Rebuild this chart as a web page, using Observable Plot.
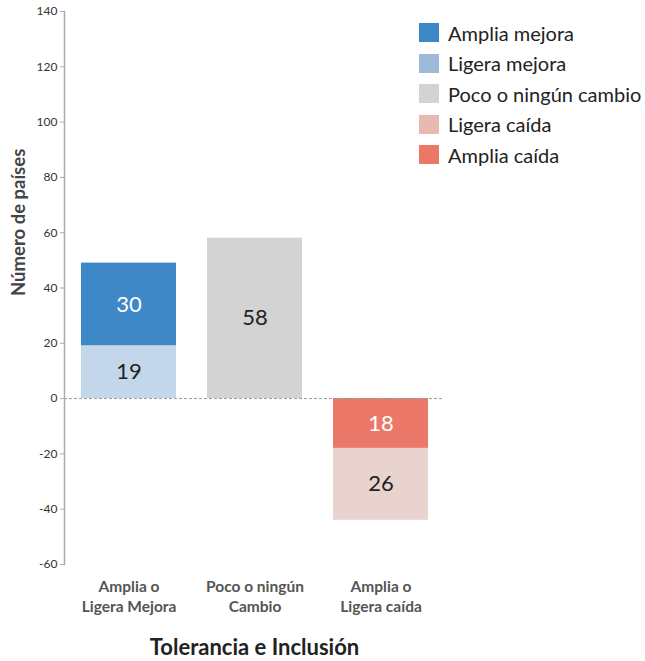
<!DOCTYPE html>
<html>
<head>
<meta charset="utf-8">
<script src="https://cdn.jsdelivr.net/npm/d3@7"></script>
<script src="https://cdn.jsdelivr.net/npm/@observablehq/plot@0.6"></script>
<style>
  body { margin: 0; background: #fff; font-family: Lato, "Open Sans", sans-serif; }
  #wrap { position: relative; width: 645px; height: 661px; }
  #legend { position: absolute; left: 419px; top: 17.5px; }
  .item { display: flex; align-items: center; height: 30.5px; }
  .sw { width: 20px; height: 19px; margin-right: 9px; flex: none; }
  .lb { font-size: 20px; color: #222; white-space: nowrap; line-height: 20px; }
</style>
</head>
<body>
<div id="wrap"><div id="chart"></div><div id="legend"></div></div>
<script>
// ---- data ----
const categories = ["Amplia o\nLigera Mejora", "Poco o ningún\nCambio", "Amplia o\nLigera caída"];
const seriesNames = ["Amplia mejora", "Ligera mejora", "Poco o ningún cambio", "Ligera caída", "Amplia caída"];
const seriesCategory = ["Amplia o\nLigera Mejora", "Amplia o\nLigera Mejora", "Poco o ningún\nCambio", "Amplia o\nLigera caída", "Amplia o\nLigera caída"];
const seriesValues = [30, 19, 58, -26, -18];
const yTicks = [-60, -40, -20, 0, 20, 40, 60, 80, 100, 120, 140];
const yLabel = "Número de países";
const xTitle = "Tolerancia e Inclusión";

// ---- styles ----
const legendColors = ["#3d87c7", "#9dbbd8", "#d3d3d3", "#e8b8b1", "#eb7767"];
const barColors = ["#3e88c7", "#c4d7ea", "#d3d3d3", "#e8d3cf", "#eb7868"];
const labelColors = ["#ffffff", "#222222", "#222222", "#222222", "#ffffff"];
const stackOrder = ["Ligera mejora", "Amplia mejora", "Poco o ningún cambio", "Amplia caída", "Ligera caída"];

const table = seriesNames.map((s, i) => ({series: s, category: seriesCategory[i], value: seriesValues[i], labelColor: labelColors[i]}));

const chart = Plot.plot({
  width: 645,
  height: 661,
  marginLeft: 64,
  marginRight: 201,
  marginTop: 11,
  marginBottom: 97,
  style: {fontFamily: "Lato, 'Open Sans', sans-serif", background: "transparent"},
  x: {type: "band", domain: categories, paddingInner: 0.25, paddingOuter: 0.13, label: null},
  y: {domain: [-60, 140], label: null},
  color: {domain: seriesNames, range: barColors},
  marks: [
    Plot.barY(table, Plot.stackY({x: "category", y: "value", z: "series", fill: "series", order: stackOrder})),
    Plot.text(table, Plot.stackY({x: "category", y: "value", z: "series", order: stackOrder, text: d => String(Math.abs(d.value)), fill: "labelColor", fontSize: 22})),
    Plot.ruleY([0], {stroke: "#999", strokeDasharray: "3,2", strokeWidth: 1}),
    Plot.frame({anchor: "left", stroke: "#aaa", strokeWidth: 1.5}),
    Plot.axisY({ticks: yTicks, tickFormat: d => String(d), tickSize: 4, tickPadding: 3, fontSize: 12, fill: "#333", stroke: "#aaa", label: null}),
    Plot.axisX({tickSize: 0, tickPadding: 13, fontSize: 15.5, fontWeight: "bold", fill: "#555", lineHeight: 1.3, label: null}),
    Plot.text([yLabel], {frameAnchor: "left", rotate: -90, dx: -45, dy: 8, fontSize: 18.5, fontWeight: "bold", fill: "#444"}),
    Plot.text([xTitle], {frameAnchor: "bottom", dy: 90, fontSize: 22, fontWeight: "bold", fill: "#222"})
  ]
});
document.getElementById("chart").appendChild(chart);

const legend = d3.select("#legend");
seriesNames.forEach((s, i) => {
  const it = legend.append("div").attr("class", "item");
  it.append("div").attr("class", "sw").style("background", legendColors[i]);
  it.append("div").attr("class", "lb").text(s);
});
</script>
</body>
</html>
